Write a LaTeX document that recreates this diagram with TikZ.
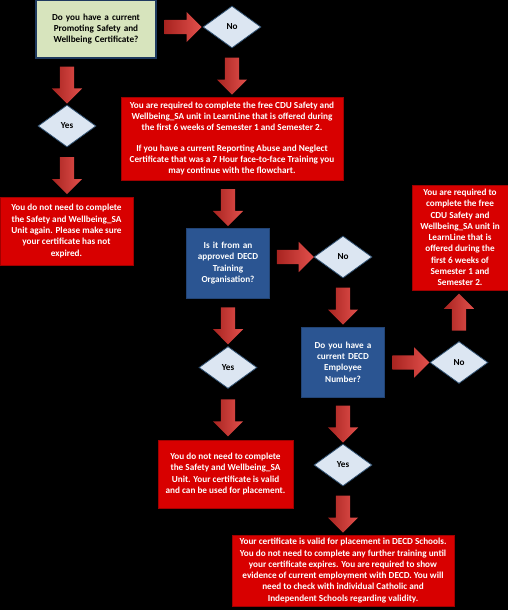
\documentclass[tikz,border=0pt]{standalone}
\usepackage{fontspec}
\setmainfont{Carlito}
\usetikzlibrary{shapes.geometric,shapes.arrows}
\definecolor{certgreen}{HTML}{D7E4BD}
\definecolor{certnavy}{HTML}{1F3A5F}
\definecolor{decdblue}{HTML}{2B5592}
\definecolor{notered}{HTML}{D80000}
\definecolor{noteedge}{HTML}{A00000}
\definecolor{choicefill}{HTML}{DCE6F2}
\definecolor{choiceedge}{HTML}{2F4F6F}
\definecolor{flowdark}{HTML}{A82420}
\definecolor{flowlight}{HTML}{E2504C}

\begin{document}
\begin{tikzpicture}[
  x=1pt, y=-1pt,
  font=\bfseries\fontsize{9.2}{11.3}\selectfont,
  startq/.style={draw=certnavy, fill=certgreen, line width=1.2pt, align=center, text width=110pt, minimum width=120pt, minimum height=58pt, inner sep=2pt},
  decdq/.style={draw=decdblue!80!black, fill=decdblue, text=white, align=center, text width=78pt, minimum width=83pt, minimum height=70pt, inner sep=2pt},
  note/.style={draw=noteedge, fill=notered, text=white, align=center, inner sep=2pt},
  choice/.style={diamond, draw=choiceedge, fill=choicefill, line width=0.8pt, minimum width=58pt, minimum height=42pt, inner sep=0pt},
  flow/.style={single arrow, single arrow head extend=8pt, single arrow head indent=0pt, inner xsep=0pt, inner ysep=7pt, minimum height=37pt, left color=flowdark, right color=flowlight, draw=none, sloped}
]

\fill[black] (0,0) rectangle (508,610);
\useasboundingbox (0,0) rectangle (508,610);

% first question
\node[startq] (cert) at (96,29) {Do you have a current\\Promoting Safety and\\Wellbeing Certificate?};
\node[choice] (no1) at (232,27) {No};
\node[choice] (yes1) at (67,126) {Yes};

\node[note, minimum width=222pt, minimum height=83pt] (unit1) at (232,138.5) {You are required to complete the free CDU Safety and\\Wellbeing\_SA unit in LearnLine that is offered during\\the first 6 weeks of Semester 1 and Semester 2.\\[9pt]If you have a current Reporting Abuse and Neglect\\Certificate that was a 7 Hour face-to-face Training you\\may continue with the flowchart.};
\node[note, minimum width=133pt, minimum height=68pt] (done1) at (66.5,231) {You do not need to complete\\the Safety and Wellbeing\_SA\\Unit again. Please make sure\\your certificate has not\\expired.};

% DECD questions
\node[decdq] (org) at (228,263) {Is it from an\\approved DECD\\Training\\Organisation?};
\node[choice] (no2) at (343,257) {No};
\node[decdq] (emp) at (343,362) {Do you have a\\current DECD\\Employee\\Number?};
\node[choice] (no3) at (459,362.5) {No};
\node[note, minimum width=96pt, minimum height=105pt] (unit2) at (460,237.5) {You are required to\\complete the free\\CDU Safety and\\Wellbeing\_SA unit in\\LearnLine that is\\offered during the\\first 6 weeks of\\Semester 1 and\\Semester 2.};

\node[choice] (yes2) at (228,367.5) {Yes};
\node[note, minimum width=135pt, minimum height=68pt] (done2) at (225.5,474) {You do not need to complete\\the Safety and Wellbeing\_SA\\Unit. Your certificate is valid\\and can be used for placement.};
\node[choice] (yes3) at (343,465) {Yes};
\node[note, minimum width=222pt, minimum height=71pt] (done3) at (343,570.5) {Your certificate is valid for placement in DECD Schools.\\You do not need to complete any further training until\\your certificate expires. You are required to show\\evidence of current employment with DECD. You will\\need to check with individual Catholic and\\Independent Schools regarding validity.};

% block arrows
\path (cert.east |- no1) -- node[flow] (a1) {} (no1);
\path (cert.south -| yes1) -- node[flow] (a2) {} (yes1);
\path (no1) -- node[flow] (a3) {} (unit1.north -| no1);
\path (yes1) -- node[flow] (a4) {} (done1.north -| yes1);
\path (unit1.south -| org) -- node[flow] (a5) {} (org);
\path (org.east |- no2) -- node[flow] (a6) {} (no2);
\path (no2) -- node[flow] (a7) {} (emp.north -| no2);
\path (emp.east |- no3) -- node[flow] (a8) {} (no3);
\path (no3) -- node[flow] (a9) {} (unit2.south -| no3);
\path (org) -- node[flow] (a10) {} (yes2);
\path (yes2) -- node[flow] (a11) {} (done2.north -| yes2);
\path (emp) -- node[flow] (a12) {} (yes3);
\path (yes3) -- node[flow] (a13) {} (done3);

\end{tikzpicture}
\end{document}
